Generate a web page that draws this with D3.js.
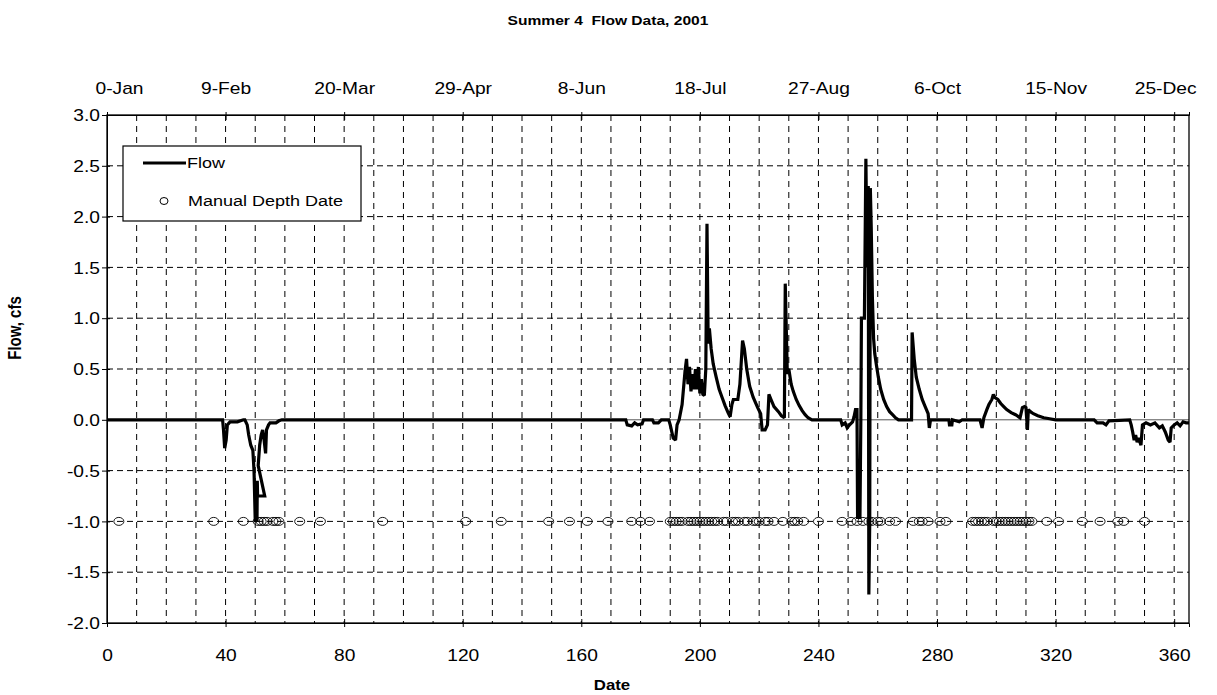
<!DOCTYPE html>
<html><head><meta charset="utf-8">
<script src="https://cdn.jsdelivr.net/npm/d3@7"></script>
<style>
body{margin:0;background:#fff}
text{font-family:"Liberation Sans",Arial,sans-serif;fill:#000}
</style>
</head><body>
<svg id="chart" width="1217" height="695"></svg>
<script>
// ---------- data ----------
const chartTitle = "Summer 4  Flow Data, 2001";
const xAxisTitle = "Date";
const yAxisTitle = "Flow, cfs";
const xTickValues = [0,40,80,120,160,200,240,280,320,360];
const topTickLabels = ["0-Jan","9-Feb","20-Mar","29-Apr","8-Jun","18-Jul","27-Aug","6-Oct","15-Nov","25-Dec"];
const yTickValues = [-2,-1.5,-1,-0.5,0,0.5,1,1.5,2,2.5,3];

const flowDays = [
 0,39,39.3,39.7,40.2,40.6,41.5,44,46,
 46.5,47.3,47.8,48.5,49.2,49.6,50.0,50.6,50.7,50.8,53.2,51.0,51.5,52.0,52.5,53.0,53.5,53.8,54.5,55,57,58,59,
 175,175.5,177,178,179,180.5,181,184,184.5,186,187,189.5,190,191,191.8,192.3,193,
 194,195,195.5,196,196.5,197,197.5,198,198.5,199,199.5,200,200.5,201,201.5,202,202.4,202.8,203.2,203.8,204.5,205.5,206.5,207.5,208.5,209.5,210.2,
 210.8,211.3,212.8,213.5,214.4,215,215.8,216.8,218,219.5,220.5,221,222,222.8,223.3,224,225,226.5,227.5,228.5,
 228.8,229.5,230,230.8,231.5,232.5,233.5,234.5,235.5,236.5,237.8,
 247.5,248,249,249.7,250.5,251.5,252,252.5,253,253.2,254,254.3,254.5,255.5,256.0,256.4,256.8,257.0,257.3,257.5,257.8,258.2,258.6,259,259.5,260.2,261,262,263,264,265,266,267,
 271.4,271.6,272.3,273,274,275,276,277,277.4,277.8,
 284,284.2,285,285.2,287.5,288.5,
 294.5,295.2,295.8,296.8,297.5,298.5,299,299.5,300.5,301.5,302.5,303.5,305,306.5,308,308.8,309.5,310,310.5,310.8,311.5,312.5,314,316,318,320,
 333,334,336,337,338,345,345.5,346,346.5,347,347.5,348,348.8,349.3,350.5,352,353.5,355,356,357,358,358.6,359,360,361,362,363,364,365
];
const flowValues = [
 0,0,-0.1,-0.28,-0.2,-0.05,-0.02,-0.02,0,
 0,-0.05,-0.15,-0.25,-0.3,-0.5,-0.99,-0.99,-0.6,-0.75,-0.75,-0.45,-0.25,-0.15,-0.1,-0.2,-0.33,-0.1,-0.05,-0.03,-0.03,-0.01,0,
 0,-0.05,-0.06,-0.03,-0.05,-0.04,0,0,-0.03,-0.03,0,0,-0.05,-0.18,-0.2,-0.05,0,
 0.15,0.48,0.6,0.35,0.52,0.28,0.45,0.3,0.5,0.3,0.52,0.26,0.4,0.25,0.24,0.5,1.93,0.75,0.9,0.7,0.55,0.42,0.3,0.22,0.14,0.07,0.03,
 0.15,0.2,0.2,0.35,0.78,0.7,0.5,0.33,0.22,0.12,0.06,-0.1,-0.1,-0.05,0.25,0.2,0.13,0.08,0.04,0.02,
 1.34,0.45,0.5,0.35,0.28,0.2,0.14,0.09,0.05,0.02,0,
 0,-0.05,-0.03,-0.08,-0.05,-0.02,0.03,0.1,0.1,-0.96,-0.96,0,1.0,1.0,2.57,1.5,2.3,-1.72,-1.0,2.28,1.9,1.2,0.8,0.65,0.55,0.42,0.3,0.2,0.13,0.08,0.05,0.02,0,
 0,0.86,0.6,0.42,0.3,0.2,0.13,0.06,-0.08,0,
 0,-0.05,-0.05,0,-0.02,0,
 0,-0.08,0.02,0.1,0.15,0.2,0.25,0.22,0.2,0.16,0.13,0.1,0.07,0.05,0.02,0.12,0.13,0.12,-0.1,0.1,0.08,0.06,0.04,0.02,0.01,0,
 0,-0.03,-0.03,-0.05,-0.01,0,-0.05,-0.12,-0.2,-0.15,-0.22,-0.18,-0.25,-0.05,-0.03,-0.05,-0.03,-0.08,-0.06,-0.12,-0.2,-0.22,-0.08,-0.05,-0.03,-0.06,-0.02,-0.03,-0.03
];
const manualDates = [
 4,36,46,51,52,53,54,56,57,58,65,72,93,121,133,149,156,162,169,177,180,183,
 190,191,192,193,194,196,197,198,199,200,201,202,203,204,205,206,208,209,211,212,213,215,216,218,219,220,222,223,225,228,
 231,232,233,235,240,248,253,
 251,255,257,258,260,261,264,266,272,274,275,277,281,283,
 292,293,294,295,296,297,299,300,301,302,303,304,305,306,307,308,309,310,311,312,
 317,321,329,335,341,343,350
];
const manualLevel = -1.0;
const legendLabels = ["Flow","Manual Depth Date"];

// ---------- layout ----------
const plot = {left:107, right:1189, top:115, bottom:623};
const SX = 1.2;          // horizontal stretch of lettering seen in the reference
const tickFont = 16;

const svg = d3.select("#chart");
const x = d3.scaleLinear().domain([0,365]).range([plot.left, plot.right]);
const y = d3.scaleLinear().domain([-2,3]).range([plot.bottom, plot.top]);
const fmtY = v => d3.format(".1f")(v).replace("\u2212","-");

// grid
const g = svg.append("g");
g.selectAll("line.vg").data(d3.range(10,365,10)).join("line")
  .attr("x1",d=>x(d)).attr("x2",d=>x(d)).attr("y1",plot.top).attr("y2",plot.bottom)
  .attr("stroke","#000").attr("stroke-width",1).attr("stroke-dasharray","6,5");
g.selectAll("line.hg").data(yTickValues.filter(v=>v!==0 && v!==-2 && v!==3)).join("line")
  .attr("x1",plot.left).attr("x2",plot.right).attr("y1",d=>y(d)).attr("y2",d=>y(d))
  .attr("stroke","#000").attr("stroke-width",1).attr("stroke-dasharray","6,4");
g.append("line").attr("x1",plot.left).attr("x2",plot.right).attr("y1",y(0)).attr("y2",y(0))
  .attr("stroke","#555").attr("stroke-width",1);

// frame
svg.append("rect").attr("x",plot.left).attr("y",plot.top)
  .attr("width",plot.right-plot.left).attr("height",plot.bottom-plot.top)
  .attr("fill","none").attr("stroke","#000").attr("stroke-width",1.3);

// left axis
const ay = svg.append("g").attr("transform",`translate(${plot.left},0)`)
  .call(d3.axisLeft(y).tickValues(yTickValues).tickSize(5).tickFormat(fmtY));
ay.select(".domain").attr("stroke","#000");
ay.selectAll(".tick line").attr("x2",-5).attr("x1",3).attr("stroke","#000");
ay.selectAll(".tick text").attr("font-size",tickFont).attr("font-family","Liberation Sans, Arial, sans-serif")
  .attr("dy","0.35em").attr("x",-7/SX).attr("transform",`scale(${SX},1)`);

// bottom axis
const ab = svg.append("g").attr("transform",`translate(0,${plot.bottom})`)
  .call(d3.axisBottom(x).tickValues(xTickValues).tickSize(4).tickFormat(d3.format("d")));
ab.select(".domain").attr("stroke","#000");
ab.selectAll(".tick line").attr("y1",-4).attr("stroke","#000");
ab.selectAll(".tick text").attr("font-size",tickFont).attr("font-family","Liberation Sans, Arial, sans-serif")
  .attr("y",0).attr("dy","2.35em").attr("transform",`scale(${SX},1)`);

// top axis
const at = svg.append("g").attr("transform",`translate(0,${plot.top})`)
  .call(d3.axisTop(x).tickValues(xTickValues).tickSize(3).tickFormat((d,i)=>topTickLabels[i]));
at.select(".domain").attr("stroke","#000");
at.selectAll(".tick line").attr("y2",-3).attr("y1",5).attr("stroke","#000");
at.selectAll(".tick text").attr("font-size",tickFont).attr("font-family","Liberation Sans, Arial, sans-serif")
  .attr("y",-21).attr("dy","0").attr("transform",`scale(${SX},1)`)
  .attr("dx",(d,i)=> i===0 ? 12/SX : (i===xTickValues.length-1 ? -9/SX : 0));

// flow line
const flowPts = flowDays.map((d,i)=>[d, flowValues[i]]);
svg.append("path").datum(flowPts)
  .attr("d", d3.line().x(d=>x(d[0])).y(d=>y(d[1])))
  .attr("fill","none").attr("stroke","#000").attr("stroke-width",3.2).attr("stroke-linejoin","miter").attr("stroke-miterlimit",2);

// manual depth dates
svg.append("g").selectAll("ellipse").data(manualDates).join("ellipse")
  .attr("cx",d=>x(d)).attr("cy",y(manualLevel)).attr("rx",5).attr("ry",4)
  .attr("fill","none").attr("stroke","#000").attr("stroke-width",0.9);

// legend
const lg = svg.append("g");
lg.append("rect").attr("x",123).attr("y",146).attr("width",238).attr("height",75)
  .attr("fill","#fff").attr("stroke","#000").attr("stroke-width",1.2);
lg.append("line").attr("x1",143).attr("x2",186).attr("y1",163).attr("y2",163).attr("stroke","#000").attr("stroke-width",3);
lg.append("text").attr("x",187/SX).attr("y",168.5).attr("font-size",15).attr("transform",`scale(${SX},1)`).text(legendLabels[0]);
lg.append("ellipse").attr("cx",164).attr("cy",201).attr("rx",4).attr("ry",3.5).attr("fill","none").attr("stroke","#000");
lg.append("text").attr("x",188/SX).attr("y",206.5).attr("font-size",15).attr("transform",`scale(${SX},1)`).text(legendLabels[1]);

// titles
svg.append("text").attr("x",608/SX).attr("y",25).attr("text-anchor","middle").attr("font-size",13)
  .attr("font-weight","bold").attr("transform",`scale(${SX},1)`).style("white-space","pre").text(chartTitle);
svg.append("text").attr("x",612/SX).attr("y",690).attr("text-anchor","middle").attr("font-size",14)
  .attr("font-weight","bold").attr("transform",`scale(${SX},1)`).text(xAxisTitle);
svg.append("text").attr("transform",`translate(21,328) scale(${SX},1) rotate(-90)`)
  .attr("text-anchor","middle").attr("font-size",15).attr("font-weight","bold").text(yAxisTitle);
</script>
</body></html>
